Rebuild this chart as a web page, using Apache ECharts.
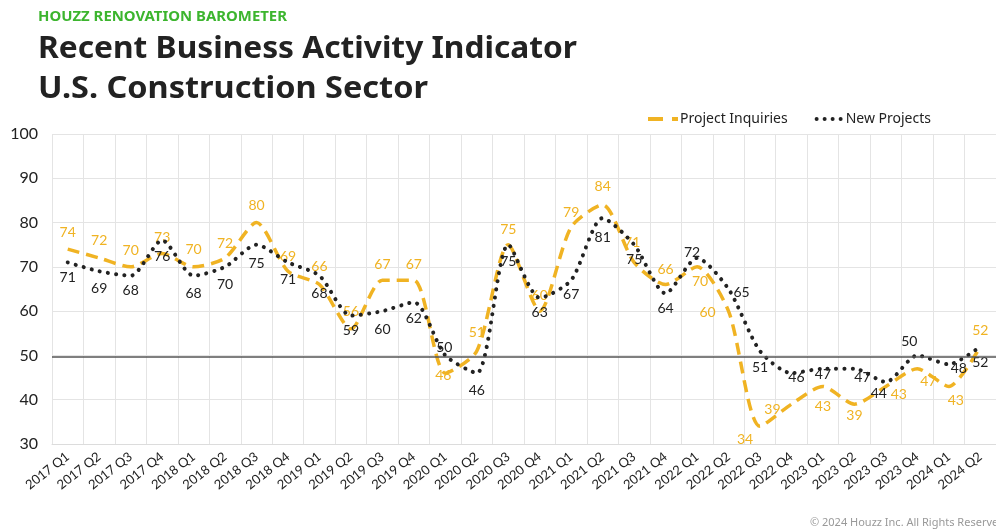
<!DOCTYPE html>
<html><head><meta charset="utf-8">
<script src="https://cdn.jsdelivr.net/npm/echarts@6/dist/echarts.min.js"></script>
<style>html,body{margin:0;padding:0;background:#fff}#c{width:996px;height:531px}</style>
</head><body><div id="c"></div>
<script>
const categories = ['2017 Q1','2017 Q2','2017 Q3','2017 Q4','2018 Q1','2018 Q2','2018 Q3','2018 Q4',
  '2019 Q1','2019 Q2','2019 Q3','2019 Q4','2020 Q1','2020 Q2','2020 Q3','2020 Q4',
  '2021 Q1','2021 Q2','2021 Q3','2021 Q4','2022 Q1','2022 Q2','2022 Q3','2022 Q4',
  '2023 Q1','2023 Q2','2023 Q3','2023 Q4','2024 Q1','2024 Q2'];
const projectInquiries = [74,72,70,73,70,72,80,69,66,56,67,67,46,51,75,60,79,84,71,66,70,60,34,39,43,39,43,47,43,52];
const newProjects = [71,69,68,76,68,70,75,71,68,59,60,62,50,46,75,63,67,81,75,64,72,65,51,46,47,47,44,50,48,52];
const yMin = 30, yMax = 100, yStep = 10;
const refLine = 49.6;

// label placement (offset of label centre from the point), style only
const piLabelOffsets = [[0,-17],[0,-18],[0,-16],[0,-16],[0,-17],[0,-15],[0,-17],[0,-15],[0,-18],[0,-17],
  [0,-16],[0,-16],[-2,2],[0,-19],[0,-15],[0,-16],[0,-15],[0,-18],[-2,-20],[0,-15],
  [3,15],[-21,1],[-15,13],[-19,5],[0,20],[0,11],[13,8],[11,13],[7,14],[0,-16]];
const npLabelOffsets = [[0,15],[0,17],[0,15],[0,16],[0,18],[0,18],[0,19],[0,17],[0,18],[0,15],
  [0,18],[0,16],[-1,-8],[0,17],[0,17],[0,15],[0,14],[0,19],[0,15],[0,15],
  [-5,-6],[13,3],[0,16],[5,4],[0,6],[8,9],[-7,11],[-8,-14],[10,4],[0,16]];

const YEL = '#F0B323', DARK = '#222222';

function width(text, font){
  const c = document.createElement('canvas').getContext('2d');
  c.font = font;
  return c.measureText(text).width;
}
const TF = '"Noto Sans"';
const t1 = 'Recent Business Activity Indicator', t2 = 'U.S. Construction Sector', t0 = 'HOUZZ RENOVATION BAROMETER';
const f1 = 'bold 30.5px ' + TF, f0 = 'bold 14px ' + TF;
const sx1 = 539 / width(t1, f1), sx2 = 390 / width(t2, f1), sx0 = 249 / width(t0, f0);

const chart = echarts.init(document.getElementById('c'), null, {renderer:'canvas'});
chart.setOption({
  animation: false,
  backgroundColor: '#fff',
  graphic: [
    {type:'text', x:38, y:17, scaleX:sx0, style:{text:t0, font:f0, fill:'#3cb52e', textVerticalAlign:'middle'}},
    {type:'text', x:38, y:49, scaleX:sx1, style:{text:t1, font:f1, fill:'#222', textVerticalAlign:'middle'}},
    {type:'text', x:38, y:89, scaleX:sx2, style:{text:t2, font:f1, fill:'#222', textVerticalAlign:'middle'}},
    {type:'text', x:810, y:523, style:{text:'© 2024 Houzz Inc. All Rights Reserved', font:'11px "Noto Sans"', fill:'#999', textVerticalAlign:'middle'}}
  ],
  legend: {
    left: 643, top: 107, itemWidth: 30, itemHeight: 4, itemGap: 27,
    textStyle: {fontFamily:'Noto Sans', fontSize:14, color:'#222', padding:[0,0,0,-3]},
    data: [
      {name:'Project Inquiries', icon:'path://M0,0H15V4H0Z M24,0H30V4H24Z', itemStyle:{color:YEL}},
      {name:'New Projects', icon:'path://M0,2a2,2 0 1,0 4,0a2,2 0 1,0 -4,0Z M8,2a2,2 0 1,0 4,0a2,2 0 1,0 -4,0Z M16,2a2,2 0 1,0 4,0a2,2 0 1,0 -4,0Z M24,2a2,2 0 1,0 4,0a2,2 0 1,0 -4,0Z', itemStyle:{color:DARK}}
    ]
  },
  grid: {left:52, top:134, width:949, height:310, containLabel:false},
  xAxis: {
    type:'category', data:categories, boundaryGap:true,
    axisLine:{show:true, lineStyle:{color:'#dcdcdc', width:1}},
    axisTick:{show:false},
    splitLine:{show:true, lineStyle:{color:'#e4e4e4', width:1}},
    axisLabel:{rotate:38, margin:11, fontSize:13, color:'#222', fontFamily:'Lato', interval:0}
  },
  yAxis: {
    type:'value', min:yMin, max:yMax, interval:yStep,
    axisLine:{show:false}, axisTick:{show:false},
    splitLine:{show:true, lineStyle:{color:'#e4e4e4', width:1}},
    axisLabel:{margin:14, fontSize:16, color:'#222', fontFamily:'Lato'}
  },
  series: [
    {
      name:'Project Inquiries', type:'line', smooth:0.25, z:3,
      symbol:'circle', symbolSize:0.01, showSymbol:true,
      itemStyle:{color:YEL},
      lineStyle:{color:YEL, width:3.5, type:[12,7], cap:'butt'},
      label:{show:true, position:'inside', fontSize:14, color:YEL, fontFamily:'Lato'},
      data: projectInquiries.map((v,i)=>({value:v, label:{offset:piLabelOffsets[i]}}))
    },
    {
      name:'New Projects', type:'line', smooth:0.25, z:4,
      symbol:'circle', symbolSize:0.01, showSymbol:true,
      itemStyle:{color:DARK},
      lineStyle:{color:DARK, width:4, type:[0.1,8.2], cap:'round'},
      label:{show:true, position:'inside', fontSize:14, color:DARK, fontFamily:'Lato'},
      markLine:{silent:true, symbol:'none', label:{show:false}, lineStyle:{color:'#555', width:1.5, type:'solid'},
        data:[{yAxis:refLine}]},
      data: newProjects.map((v,i)=>({value:v, label:{offset:npLabelOffsets[i]}}))
    }
  ]
});
</script></body></html>
